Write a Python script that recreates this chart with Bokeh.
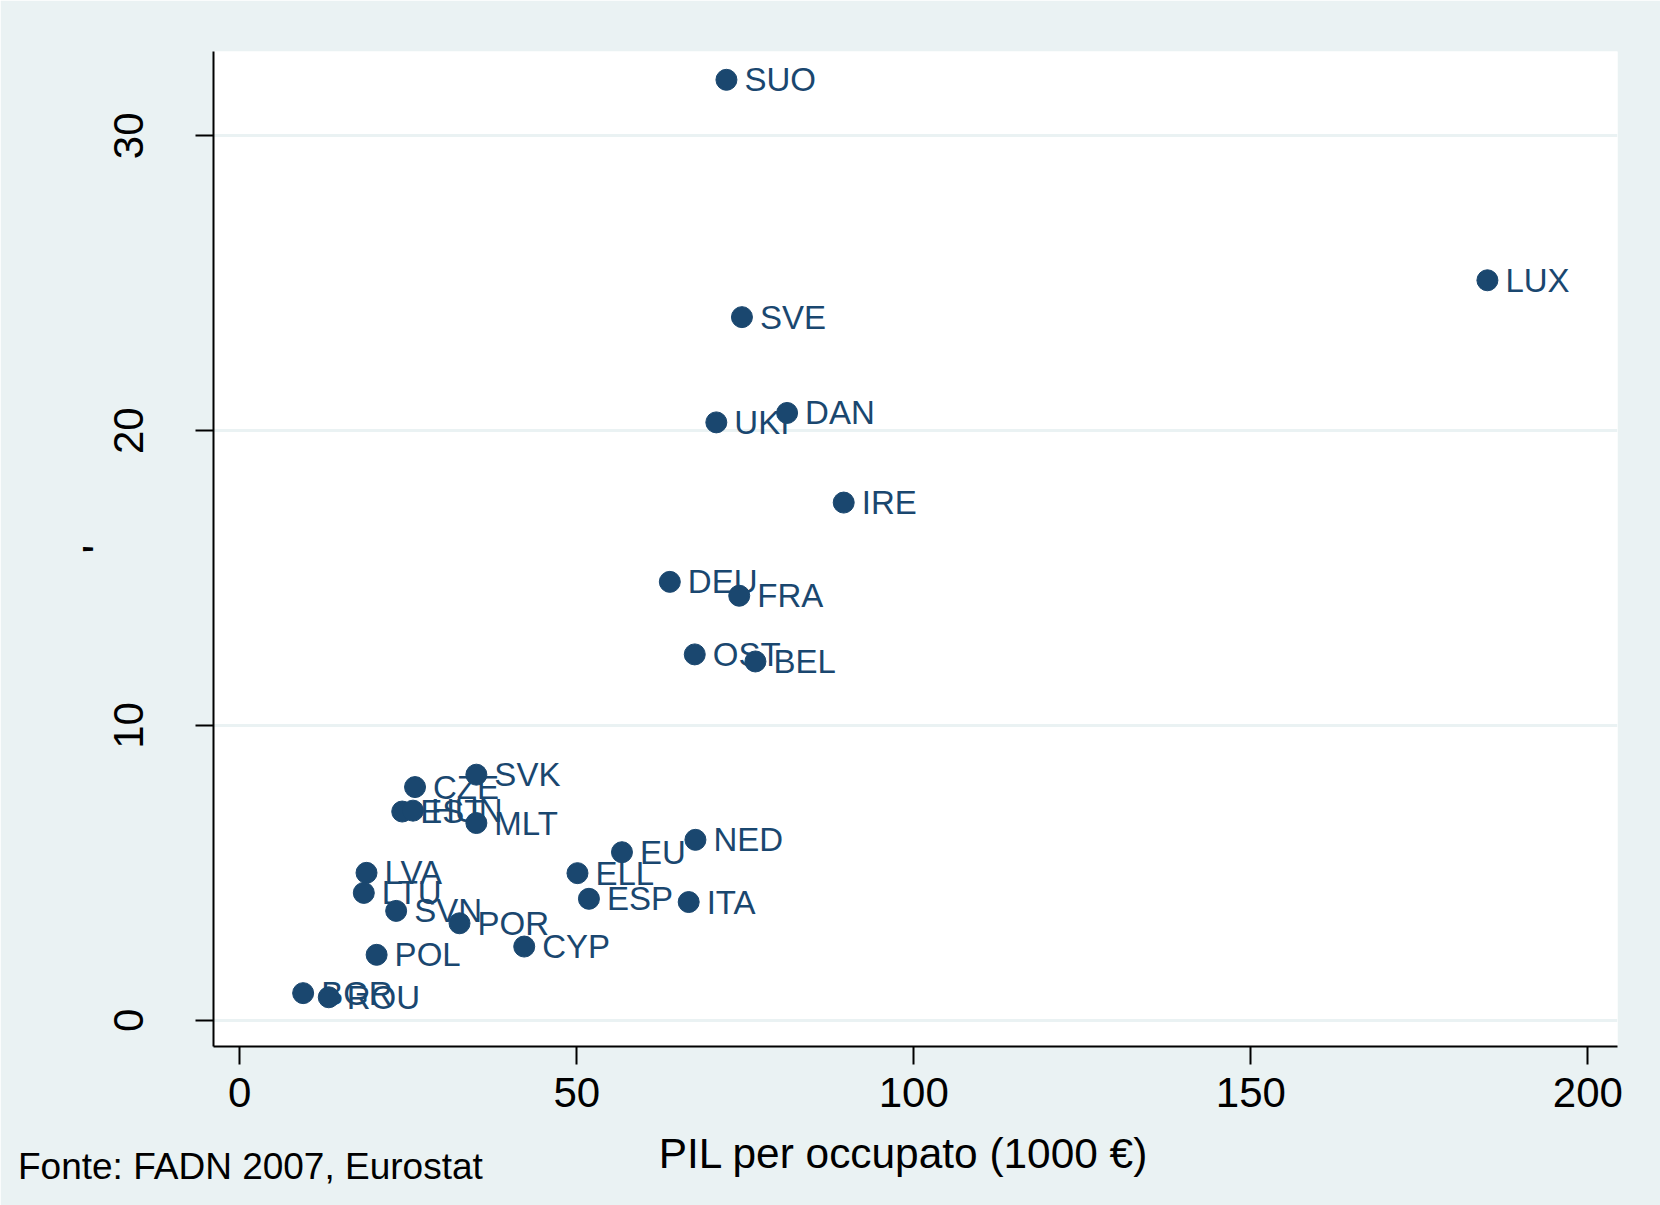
from bokeh.plotting import figure
from bokeh.models import ColumnDataSource, FixedTicker, Range1d, Div
from bokeh.layouts import column
from bokeh.core.properties import value
from bokeh.embed import file_html
from bokeh.resources import INLINE

# ---- data ----
codes = ["SUO", "LUX", "SVE", "DAN", "UKI", "IRE", "DEU", "FRA", "OST", "BEL",
         "SVK", "CZE", "EST", "HUN", "MLT", "NED", "EU", "ELL", "ESP", "ITA",
         "LVA", "LTU", "SVN", "POR", "CYP", "POL", "BGR", "ROU"]
pil_per_occupato = [72.2, 185.1, 74.5, 81.2, 70.7, 89.6, 63.8, 74.1, 67.5, 76.5,
                    35.1, 26.0, 24.1, 25.7, 35.1, 67.6, 56.7, 50.1, 51.8, 66.6,
                    18.8, 18.4, 23.2, 32.6, 42.2, 20.3, 9.4, 13.2]
y_values = [31.9, 25.1, 23.85, 20.6, 20.28, 17.56, 14.87, 14.40, 12.41, 12.17,
            8.33, 7.91, 7.08, 7.11, 6.69, 6.12, 5.70, 4.99, 4.12, 4.01,
            5.00, 4.32, 3.71, 3.29, 2.50, 2.22, 0.92, 0.78]
x_ticks = [0, 50, 100, 150, 200]
y_ticks = [0, 10, 20, 30]
x_title = "PIL per occupato (1000 €)"
y_title = "'"
note = "Fonte: FADN 2007, Eurostat"

BG = "#EAF2F3"
NAVY = "#1A476F"
FONT = "Liberation Sans"

src = ColumnDataSource(dict(x=pil_per_occupato, y=y_values, code=codes))

p = figure(width=1660, height=1205, output_backend="svg", toolbar_location=None,
           x_range=Range1d(-3.9, 204.4), y_range=Range1d(-0.89, 32.86),
           min_border_left=213, min_border_right=43, min_border_top=51,
           min_border_bottom=159)
p.background_fill_color = "white"
p.border_fill_color = BG
p.outline_line_color = None

p.xgrid.grid_line_color = None
p.ygrid.grid_line_color = BG
p.ygrid.grid_line_width = 3

p.text(x="x", y="y", text="code", source=src, text_color=NAVY,
       text_font=value(FONT), text_font_size="33px", text_baseline="middle",
       text_align="left", x_offset=18, y_offset=0)
p.scatter(x="x", y="y", source=src, size=21, fill_color=NAVY, line_color=NAVY)

for ax in (p.xaxis[0], p.yaxis[0]):
    ax.axis_line_color = "black"
    ax.axis_line_width = 2
    ax.major_tick_line_color = "black"
    ax.major_tick_line_width = 2
    ax.major_tick_in = 0
    ax.major_tick_out = 18
    ax.minor_tick_line_color = None
    ax.major_label_text_font = FONT
    ax.major_label_text_color = "black"
    ax.major_label_text_font_size = "42px"
    ax.axis_label_text_font = FONT
    ax.axis_label_text_font_style = "normal"
    ax.axis_label_text_color = "black"

p.xaxis.ticker = FixedTicker(ticks=x_ticks)
p.yaxis.ticker = FixedTicker(ticks=y_ticks)
p.xaxis.major_label_standoff = 13
p.yaxis.major_label_standoff = 52
p.yaxis.major_label_orientation = "vertical"

p.yaxis.axis_label = y_title
p.yaxis.axis_label_text_font_size = "46px"
p.yaxis.axis_label_standoff = -13

text_style = {"position": "absolute", "font-family": FONT, "color": "black",
              "white-space": "nowrap", "margin": "0", "padding": "0"}

title_div = Div(text=x_title, width=800, height=44, margin=0,
                styles=dict(text_style, **{"left": "503px", "top": "1133px",
                                           "font-size": "42.4px", "line-height": "42px",
                                           "text-align": "center"}))
note_div = Div(text=note, width=700, height=40, margin=0,
               styles=dict(text_style, **{"left": "18px", "top": "1148px",
                                          "font-size": "37px", "line-height": "37px"}))

root = column(p, title_div, note_div, spacing=0)
open("out.html", "w").write(file_html(root, INLINE))
